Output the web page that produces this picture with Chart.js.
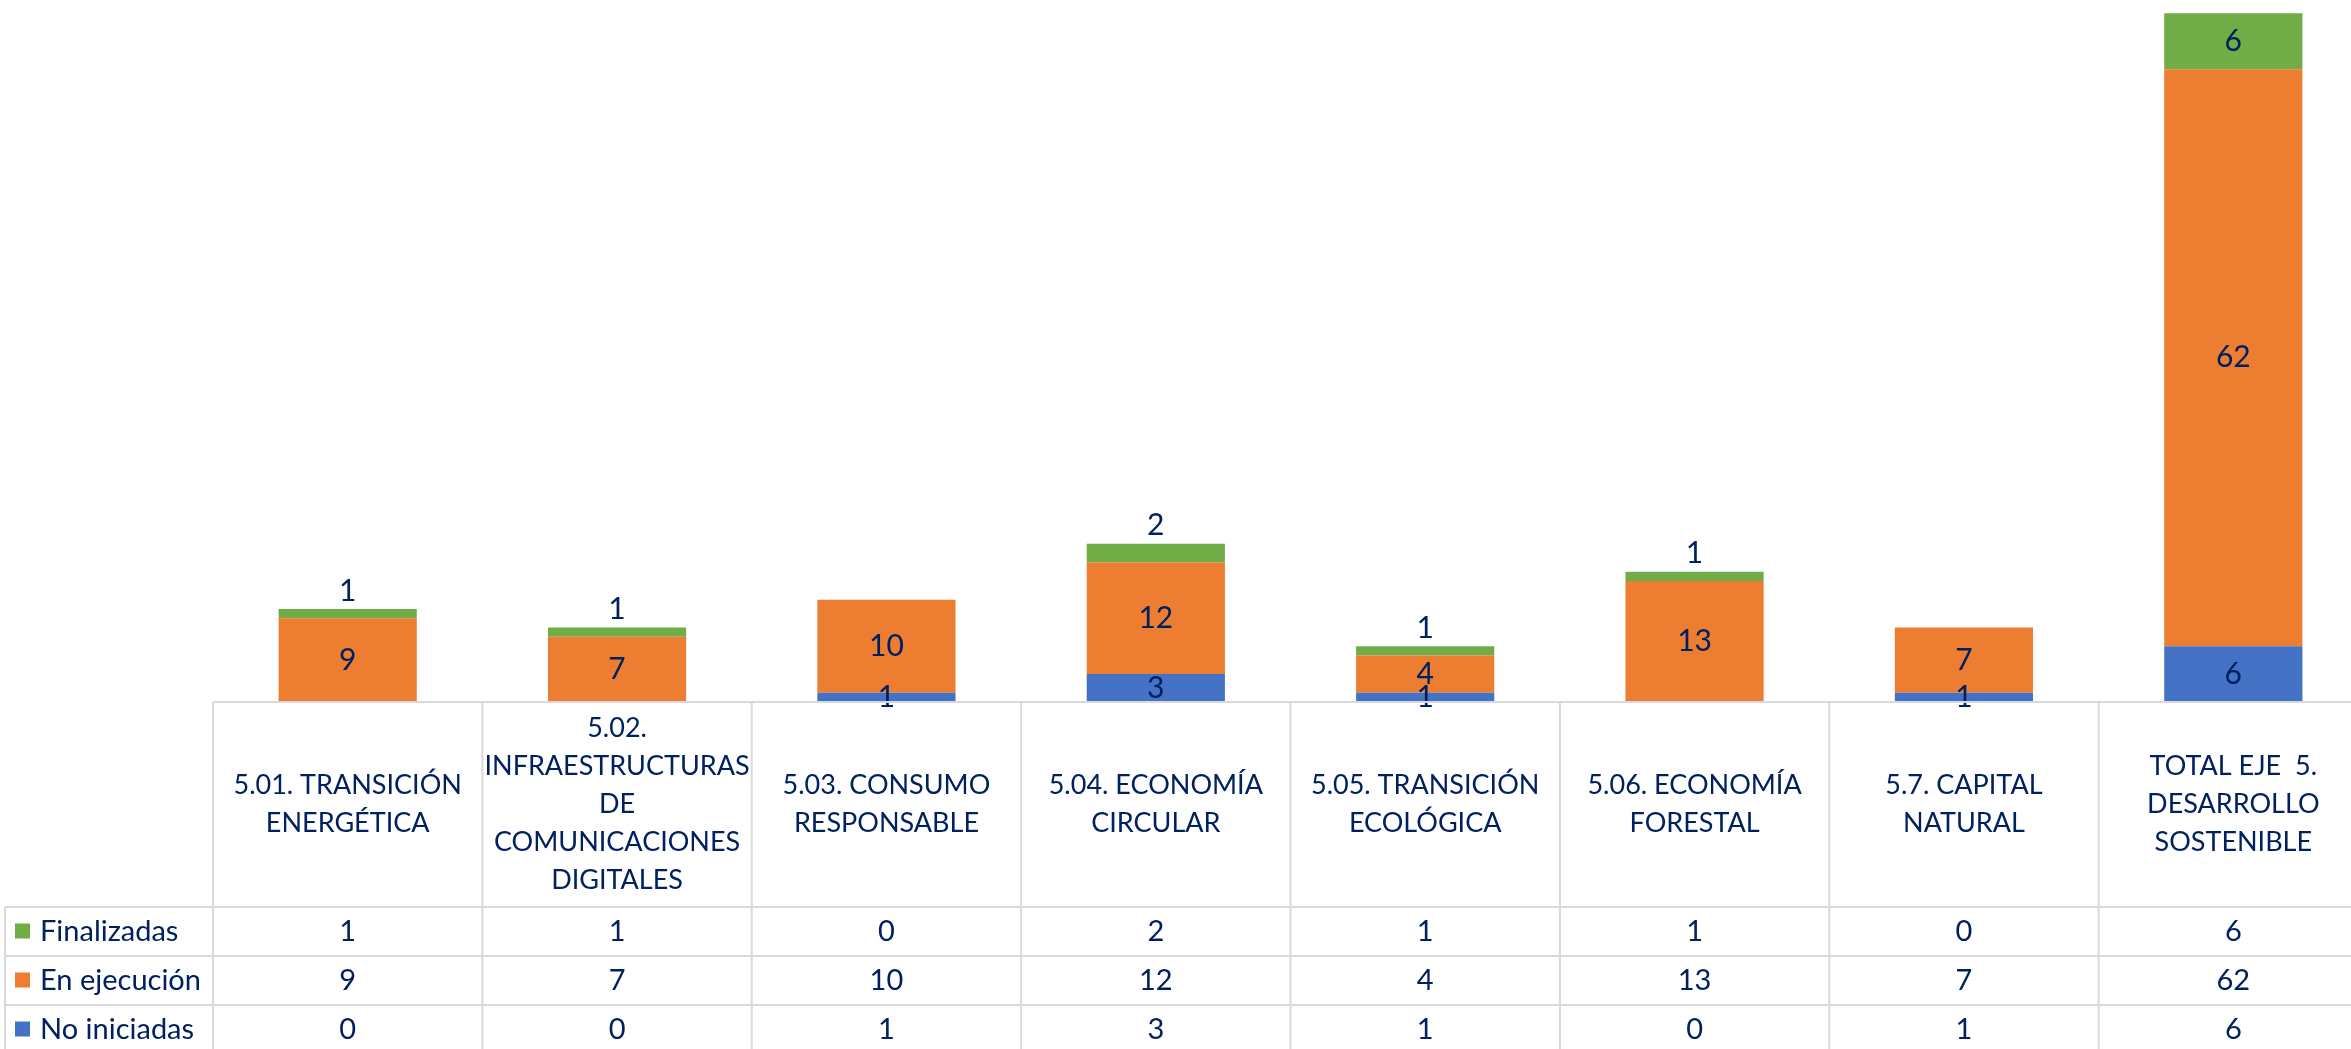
<!DOCTYPE html>
<html>
<head>
<meta charset="utf-8">
<script src="https://cdn.jsdelivr.net/npm/chart.js@4"></script>
<style>
    body { margin: 0; overflow: hidden; background: #fff; }
</style>
</head>
<body>
<canvas id="myChart" width="2368" height="1049"></canvas>
<script>
// categories (already wrapped like in the table header)
const categories = [
    ['5.01. TRANSICIÓN', 'ENERGÉTICA'],
    ['5.02.', 'INFRAESTRUCTURAS', 'DE', 'COMUNICACIONES', 'DIGITALES'],
    ['5.03. CONSUMO', 'RESPONSABLE'],
    ['5.04. ECONOMÍA', 'CIRCULAR'],
    ['5.05. TRANSICIÓN', 'ECOLÓGICA'],
    ['5.06. ECONOMÍA', 'FORESTAL'],
    ['5.7. CAPITAL', 'NATURAL'],
    ['TOTAL EJE  5.', 'DESARROLLO', 'SOSTENIBLE']
];
const finalizadas = [1, 1, 0, 2, 1, 1, 0, 6];
const enEjecucion = [9, 7, 10, 12, 4, 13, 7, 62];
const noIniciadas = [0, 0, 1, 3, 1, 0, 1, 6];

const FONT = 'Lato';
const TEXT = '#002060';
const GRID = '#d9d9d9';

// labels on the segments
const segmentLabels = {
    id: 'segmentLabels',
    afterDatasetsDraw(chart) {
        const ctx = chart.ctx;
        ctx.save();
        ctx.font = '30px ' + FONT;
        ctx.fillStyle = TEXT;
        ctx.textAlign = 'center';
        ctx.textBaseline = 'middle';
        chart.data.datasets.forEach(function (ds, d) {
            const meta = chart.getDatasetMeta(d);
            meta.data.forEach(function (el, i) {
                const v = ds.data[i];
                if (!v) return;
                let y = (el.y + el.base) / 2;
                // small top segment: label sits above the bar
                if (ds.label === 'Finalizadas' && el.base - el.y < 30) y = el.y - 18;
                ctx.fillText(String(v), el.x, y);
            });
        });
        ctx.restore();
    }
};

// the data table under the bars
const dataTable = {
    id: 'dataTable',
    afterDraw(chart) {
        const ctx = chart.ctx;
        const x = chart.scales.x;
        const n = categories.length;
        const colW = (x.right - x.left) / n;
        const top = chart.chartArea.bottom;
        const headH = 205, rowH = 49;
        const tableLeft = 5;
        const rows = chart.data.datasets.slice().reverse();
        const bottom = top + headH + rowH * rows.length;

        ctx.save();
        ctx.strokeStyle = GRID;
        ctx.lineWidth = 2;
        ctx.beginPath();
        ctx.moveTo(x.left, top); ctx.lineTo(x.right, top);
        for (let r = 0; r < rows.length; r++) {
            const ry = top + headH + r * rowH;
            ctx.moveTo(tableLeft, ry); ctx.lineTo(x.right, ry);
        }
        ctx.moveTo(tableLeft, top + headH); ctx.lineTo(tableLeft, bottom);
        for (let i = 0; i <= n; i++) {
            const cx = x.left + i * colW;
            ctx.moveTo(cx, top); ctx.lineTo(cx, bottom);
        }
        ctx.stroke();

        ctx.fillStyle = TEXT;
        ctx.font = '27px ' + FONT;
        ctx.textAlign = 'center';
        ctx.textBaseline = 'middle';
        const lh = 38;
        categories.forEach(function (lines, i) {
            const cx = x.getPixelForValue(i);
            const y0 = top + headH / 2 - (lines.length - 1) * lh / 2;
            lines.forEach(function (t, k) { ctx.fillText(t, cx, y0 + k * lh); });
        });

        ctx.font = '29px ' + FONT;
        rows.forEach(function (ds, r) {
            const cy = top + headH + r * rowH + rowH / 2;
            ctx.fillStyle = ds.backgroundColor;
            ctx.fillRect(15, cy - 8, 15, 15);
            ctx.fillStyle = TEXT;
            ctx.textAlign = 'left';
            ctx.fillText(ds.label, 40, cy);
            ctx.textAlign = 'center';
            ds.data.forEach(function (v, i) {
                ctx.fillText(String(v), x.getPixelForValue(i), cy);
            });
        });
        ctx.restore();
    }
};

const ctx = document.getElementById('myChart');
new Chart(ctx, {
    type: 'bar',
    data: {
        labels: categories,
        datasets: [
            { label: 'No iniciadas', data: noIniciadas, backgroundColor: '#4472c4' },
            { label: 'En ejecución', data: enEjecucion, backgroundColor: '#ed7d31' },
            { label: 'Finalizadas', data: finalizadas, backgroundColor: '#70ad47' }
        ]
    },
    options: {
        responsive: false,
        animation: false,
        devicePixelRatio: 1,
        layout: { padding: { left: 213, top: 4, right: 0, bottom: 0 } },
        datasets: { bar: { categoryPercentage: 1, barPercentage: 0.513 } },
        plugins: { legend: { display: false }, tooltip: { enabled: false }, title: { display: false } },
        scales: {
            x: {
                stacked: true,
                grid: { display: false },
                border: { display: false },
                ticks: { display: false },
                afterFit: function (scale) { scale.height = 347; }
            },
            y: { stacked: true, display: false, min: 0, max: 75 }
        }
    },
    plugins: [segmentLabels, dataTable]
});
</script>
</body>
</html>
